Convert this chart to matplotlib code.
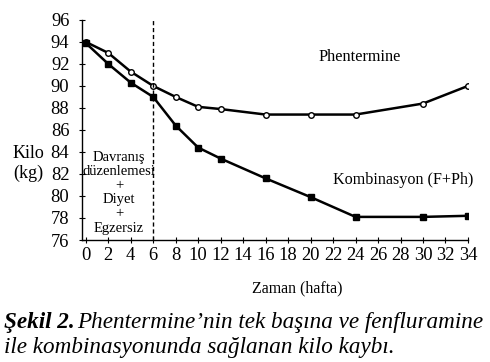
import matplotlib
matplotlib.use("Agg")
from matplotlib import pyplot as plt

plt.rcParams['font.family'] = ['Liberation Serif', 'DejaVu Serif']

# data
hafta_phen = [0, 2, 4, 6, 8, 10, 12, 16, 20, 24, 30, 34]
kilo_phen = [94.0, 93.0, 91.3, 90.0, 89.0, 88.1, 87.9, 87.4, 87.4, 87.4, 88.4, 90.0]
hafta_komb = [0, 2, 4, 6, 8, 10, 12, 16, 20, 24, 30, 34]
kilo_komb = [93.9, 92.0, 90.3, 89.0, 86.4, 84.4, 83.4, 81.6, 79.9, 78.1, 78.1, 78.2]
xticks = list(range(0, 35, 2))
yticks = list(range(76, 97, 2))

fig = plt.figure(figsize=(4.9, 3.62), dpi=100)
ax = fig.add_axes([0.167, 0.337, 0.788, 0.608])

ax.plot(hafta_phen, kilo_phen, color='black', lw=1.8, marker='o', ms=4,
        mfc='white', mec='black', mew=1.0)
ax.plot(hafta_komb, kilo_komb, color='black', lw=1.8, marker='s', ms=4,
        mfc='black', mec='black')
ax.axvline(6, color='black', lw=1.0, ls=(0, (3, 2)))

ax.set_xlim(-0.35, 34)
ax.set_ylim(76, 96)
ax.set_xticks(xticks)
ax.set_yticks(yticks)
ax.tick_params(axis='both', labelsize=13.3, direction='inout', length=4, width=0.8)
ax.tick_params(axis='x', pad=3)
ax.tick_params(axis='y', pad=7)
ax.spines['top'].set_visible(False)
ax.spines['right'].set_visible(False)
ax.spines['left'].set_linewidth(1.0)
ax.spines['bottom'].set_linewidth(1.0)

ax.text(2.95, 80.3, 'Davranış\ndüzenlemesi\n+\nDiyet\n+\nEgzersiz', ha='center',
        va='center', fontsize=10.5, linespacing=1.12)
ax.text(24.4, 92.6, 'Phentermine', ha='center', va='center', fontsize=11.7)
ax.text(28.2, 81.45, 'Kombinasyon (F+Ph)', ha='center', va='center', fontsize=11.6)

fig.text(0.057, 0.548, 'Kilo\n(kg)', ha='center', va='center', fontsize=13,
         linespacing=1.15)
fig.text(0.606, 0.204, 'Zaman (hafta)', ha='center', va='center', fontsize=11.4)

cap_size = 16.7
t1 = fig.text(0.008, 0.095, 'Şekil 2.', fontsize=cap_size, style='italic',
              weight='bold', ha='left', va='baseline')
fig.canvas.draw()
bb = t1.get_window_extent()
x2 = bb.x1 / fig.bbox.width + 0.006
fig.text(x2, 0.095, 'Phentermine’nin tek başına ve fenfluramine', fontsize=cap_size,
         style='italic', ha='left', va='baseline')
fig.text(0.008, 0.025, 'ile kombinasyonunda sağlanan kilo kaybı.', fontsize=cap_size,
         style='italic', ha='left', va='baseline')

fig.savefig('out.png', dpi=100)
